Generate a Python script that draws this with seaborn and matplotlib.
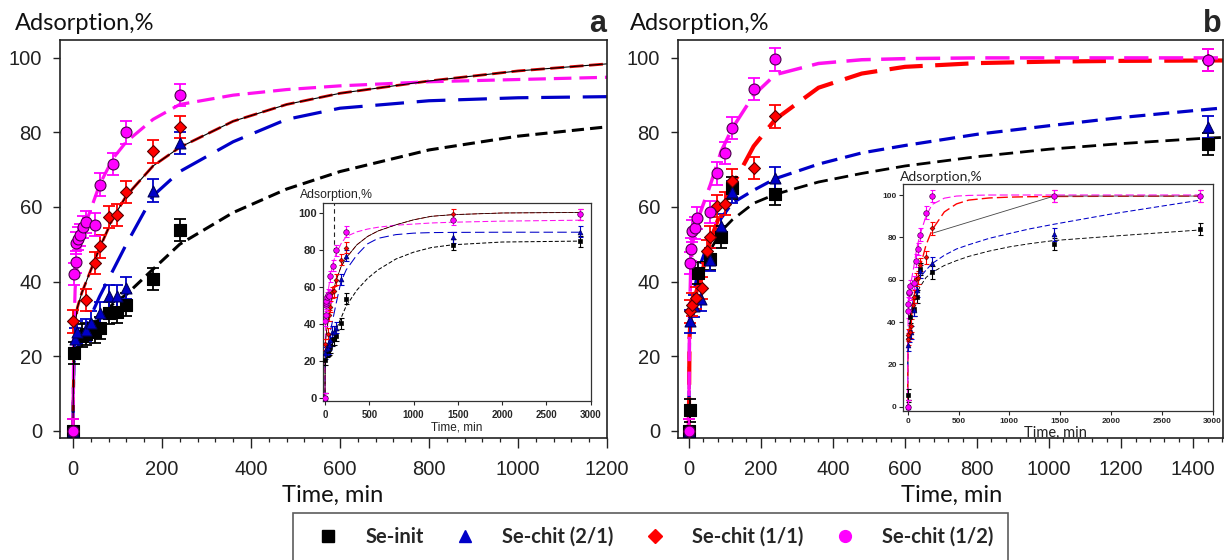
import matplotlib
matplotlib.use("Agg")
import matplotlib.pyplot as plt
from matplotlib.lines import Line2D
from matplotlib.ticker import MultipleLocator
import seaborn as sns

sns.set_style("ticks")
plt.rcParams['font.family'] = ['Liberation Sans', 'DejaVu Sans']

W, H = 1226, 560

# series
series = ['Se-init', 'Se-chit (2/1)', 'Se-chit (1/1)', 'Se-chit (1/2)']
colors = ['#000000', '#0000c8', '#ff0000', '#ff00ff']
edges = ['#000000', '#00005a', '#5a0000', '#4a004a']
markers = ['s', '^', 'D', 'o']
err = 3.0

# panel a measured points (time, min / adsorption, %)
a_init_t = [0, 2, 20, 30, 50, 60, 80, 100, 120, 180, 240, 1440, 2880]
a_init_v = [0, 20.8, 25.5, 26, 26.5, 27.5, 31.5, 31.8, 33.8, 40.6, 53.8, 83, 85]
a_21_t = [0, 5, 10, 30, 40, 60, 80, 100, 120, 180, 240, 1440, 2880]
a_21_v = [0, 24.5, 26.5, 27, 29, 31.5, 36, 36, 38.2, 64.4, 77.2, 87, 90]
a_11_t = [0, 1, 30, 50, 60, 80, 100, 120, 180, 240, 1440, 2880]
a_11_v = [0, 29.3, 35, 45, 49.4, 57.3, 57.9, 64.1, 74.9, 81.4, 99.5, 99.5]
a_12_t = [0, 3, 6, 8, 12, 16, 22, 30, 50, 60, 90, 120, 240, 1440, 2880]
a_12_v = [0, 42, 45.2, 50.3, 51.5, 52.4, 54.6, 56, 55.3, 66, 71.6, 80, 90, 96.5, 99.5]

# panel b measured points
b_init_t = [0, 3, 25, 60, 90, 120, 240, 1440, 2880]
b_init_v = [0, 5.4, 42.3, 46, 52, 65.1, 63.5, 76.9, 84]
b_21_t = [0, 3, 15, 35, 60, 90, 120, 240, 1440]
b_21_v = [0, 29.3, 33.4, 35.2, 45.9, 55, 64, 67.8, 81.5]
b_11_t = [0, 2, 8, 20, 36, 50, 60, 78, 100, 120, 180, 240, 1440, 2880]
b_11_v = [0, 32, 33.8, 35.5, 38.3, 48.1, 52, 60.2, 60.9, 67.1, 70.5, 84.3, 99.5, 99.5]
b_12_t = [0, 3, 5, 10, 17, 24, 60, 78, 100, 120, 180, 240, 1440, 2880]
b_12_v = [0, 45, 48.6, 53.5, 54.4, 57, 58.6, 69, 74.5, 81.2, 91.7, 99.6, 99.5, 99.5]

# fitted kinetic curves
fit_t = [0, 2, 5, 10, 20, 30, 60, 90, 120, 180, 240, 360, 480, 600, 800, 1000, 1200, 1440, 2000, 2880]
a_fit_init = [0, 18, 19.5, 21, 23.5, 26, 30, 34, 36.5, 43.3, 50, 58.5, 64.8, 69.5, 75.3, 79, 81.5, 83, 84.5, 85]
a_fit_21 = [0, 18, 20, 22, 25, 28, 36, 43, 50, 63, 69.5, 77.5, 83.5, 86.5, 88.5, 89.3, 89.6, 89.7, 89.8, 89.8]
a_fit_11 = [0, 22, 28, 33, 37, 40, 49, 57, 63, 71, 76, 83, 87.5, 90.5, 93.8, 96.5, 98.4, 99.3, 100.2, 100.5]
a_fit_12 = [0, 25, 38, 45, 52, 56, 66, 73, 77.5, 83.5, 87.5, 90, 91.5, 92.5, 93.6, 94.2, 94.8, 95.2, 95.8, 96.3]
b_fit_init = [0, 25, 30, 35, 39, 42, 48.5, 53.5, 56.5, 61, 63.4, 66.7, 69, 71, 73.5, 75.5, 77, 78.5, 80.5, 83.5]
b_fit_21 = [0, 25, 30, 35, 40, 44, 52, 57, 61, 64.5, 67.6, 71.5, 74.5, 76.5, 79.5, 81.8, 84, 86.2, 91, 97.6]
b_fit_11 = [0, 25, 30, 33, 37, 40, 51, 59, 65.5, 76.3, 83.5, 92, 95.8, 97.6, 98.6, 99, 99.2, 99.3, 99.4, 99.5]
b_fit_12 = [0, 30, 42, 50, 55, 58, 66, 75, 81, 90, 95.5, 98.5, 99.5, 99.8, 100, 100, 100, 100, 100, 100]

inset_mark_t = 100

pts_a = [(a_init_t, a_init_v), (a_21_t, a_21_v), (a_11_t, a_11_v), (a_12_t, a_12_v)]
pts_b = [(b_init_t, b_init_v), (b_21_t, b_21_v), (b_11_t, b_11_v), (b_12_t, b_12_v)]
fits_a = [a_fit_init, a_fit_21, a_fit_11, a_fit_12]
fits_b = [b_fit_init, b_fit_21, b_fit_11, b_fit_12]

# line styles (width, dash pattern)
style_a = [(2.2, (4, 2)), (2.3, (9, 4)), (2.0, (5, 2)), (2.3, (5.5, 2.5))]
style_b = [(2.0, (5, 2.5)), (2.3, (5, 2.5)), (3.0, (8, 3)), (2.5, (7, 3))]
line_cols_a = ['#000000', '#0000c8', '#e00000', '#ff10f0']
line_cols_b = ['#000000', '#0000c8', '#ff0000', '#ff10f0']
main_sizes = [74, 62, 37, 62]
inset_sizes = [12, 12, 6, 16]


def fx(x):
    return x / W


def fy(y):
    return 1 - y / H


def box(l, t, r, b):
    return [fx(l), fy(b), (r - l) / W, (b - t) / H]


def draw(ax, pts, fits, styles, lcols, sizes, lw_scale=1.0, cap=4, elw=1.3, dark11=False):
    for i in range(4):
        lw, dash = styles[i]
        sns.lineplot(x=fit_t, y=fits[i], ax=ax, color=lcols[i], lw=lw * lw_scale,
                     linestyle=(0, dash), zorder=2, legend=False)
        if dark11 and i == 2:
            sns.lineplot(x=fit_t, y=fits[i], ax=ax, color='#000000', lw=0.8 * lw_scale,
                         zorder=2.1, legend=False)
    for i in range(4):
        t, v = pts[i]
        ax.errorbar(t, v, yerr=err, fmt='none', ecolor=colors[i], elinewidth=elw,
                    capsize=cap, capthick=elw, zorder=3)
        sns.scatterplot(x=t, y=v, marker=markers[i], color=colors[i], edgecolor=edges[i],
                        linewidth=0.8 * lw_scale, s=sizes[i], ax=ax, zorder=4 + i, legend=False)
    ax.set_xlabel('')
    ax.set_ylabel('')


fig = plt.figure(figsize=(W / 100, H / 100), dpi=100)

# main panels
ax_a = fig.add_axes(box(60, 40, 607, 437.7))
ax_b = fig.add_axes(box(678, 40, 1222.7, 437.7))
draw(ax_a, pts_a, fits_a, style_a, line_cols_a, main_sizes, dark11=True)
draw(ax_b, pts_b, fits_b, style_b, line_cols_b, main_sizes)

for ax, xmax, xl in [(ax_a, 1200, -29), (ax_b, 1482, -30)]:
    ax.set_xlim(xl, xmax)
    ax.set_ylim(-1.9, 104.8)
    ax.set_yticks(range(0, 101, 20))
    ax.xaxis.set_major_locator(MultipleLocator(200))
    ax.xaxis.set_minor_locator(MultipleLocator(40))
    ax.tick_params(axis='both', which='major', labelsize=14.5, length=5, width=1, direction='out', colors='#222222')
    ax.tick_params(axis='x', which='minor', length=3, width=0.9, colors='#222222')
    ax.tick_params(axis='x', which='major', pad=9, length=7)
    ax.tick_params(axis='y', which='major', pad=8)
    for sp in ax.spines.values():
        sp.set_visible(True)
        sp.set_linewidth(1.2)
        sp.set_color('#222222')

# insets
in_a = fig.add_axes(box(322.7, 203, 590.7, 400.7))
in_b = fig.add_axes(box(903, 184, 1212.7, 410.7))
draw(in_a, pts_a, fits_a, [(w * 0.55, d) for w, d in style_a], line_cols_a, inset_sizes,
     lw_scale=0.6, cap=1.8, elw=0.8, dark11=True)
draw(in_b, pts_b, fits_b, [(w * 0.55, d) for w, d in style_b], line_cols_b, inset_sizes,
     lw_scale=0.6, cap=1.8, elw=0.8)
# thin connector through the late Se-chit (1/1) points of panel b
late = [k for k, t in enumerate(b_11_t) if t >= 240]
sns.lineplot(x=[b_11_t[k] for k in late], y=[b_11_v[k] - (2.4 if b_11_t[k] == 240 else 0) for k in late],
             ax=in_b, color='#444444', lw=0.6, zorder=2, legend=False)
in_a.axvline(inset_mark_t, ymin=0.75, ymax=1, color='#222222', lw=0.8, linestyle=(0, (4, 3)))

for ax, xl, yl, lab_x, lab_y, xpad in [(in_a, -26, (-1.3, 105.6), 7, 8, 4),
                                       (in_b, -46, (-1.9, 105.2), 6, 6, 2)]:
    ax.set_xlim(xl, 3000)
    ax.set_ylim(*yl)
    ax.set_xticks(range(0, 3001, 500))
    ax.set_yticks(range(0, 101, 20))
    ax.tick_params(axis='x', labelsize=lab_x, length=3, width=0.8, pad=xpad, direction='out')
    ax.tick_params(axis='y', labelsize=lab_y, length=3, width=0.8, pad=1.5, direction='out')
    for lbl in ax.get_xticklabels() + ax.get_yticklabels():
        lbl.set_fontweight('bold')
    for sp in ax.spines.values():
        sp.set_visible(True)
        sp.set_linewidth(0.9)
        sp.set_color('#333333')

# texts
big = dict(family=['Lato', 'DejaVu Sans'], size=17, color='#111111')
fig.text(fx(15), fy(30), 'Adsorption,%', ha='left', va='baseline', **big)
fig.text(fx(630), fy(30), 'Adsorption,%', ha='left', va='baseline', **big)
fig.text(fx(333), fy(502), 'Time, min', ha='center', va='baseline', **big)
fig.text(fx(952), fy(502), 'Time, min', ha='center', va='baseline', **big)
fig.text(fx(598), fy(32), 'a', ha='center', va='baseline', size=22, weight='bold')
fig.text(fx(1212), fy(32), 'b', ha='center', va='baseline', size=22, weight='bold')

fig.text(fx(300), fy(195), 'Adsorption,%', ha='left', va='center', size=8.8, color='#222222')
fig.text(fx(457), fy(427.5), 'Time, min', ha='center', va='center', size=8.5, color='#222222')
fig.text(fx(900), fy(177), 'Adsorption,%', ha='left', va='center', size=10,
         family=['Lato', 'DejaVu Sans'], color='#222222')
fig.text(fx(1055), fy(432.5), 'Time, min', ha='center', va='center', size=10.5,
         family=['Lato', 'DejaVu Sans'], color='#222222')

# legend
leg_sizes = [8, 9, 7, 8.5]
handles = [Line2D([], [], ls='none', marker=markers[i], color=colors[i], markersize=leg_sizes[i],
                  markeredgecolor=colors[i]) for i in range(4)]
leg = fig.legend(handles, series, loc='upper left', bbox_to_anchor=(fx(293), fy(513)), ncol=4,
                 frameon=True, fancybox=False, edgecolor='#333333', numpoints=1,
                 prop=dict(family=['Lato', 'DejaVu Sans'], weight='bold', size=14.5),
                 handlelength=2.1, handletextpad=0.8, columnspacing=1.0, borderpad=0.7,
                 borderaxespad=0)
leg.get_frame().set_linewidth(1.2)

fig.savefig('out.png', dpi=100)
